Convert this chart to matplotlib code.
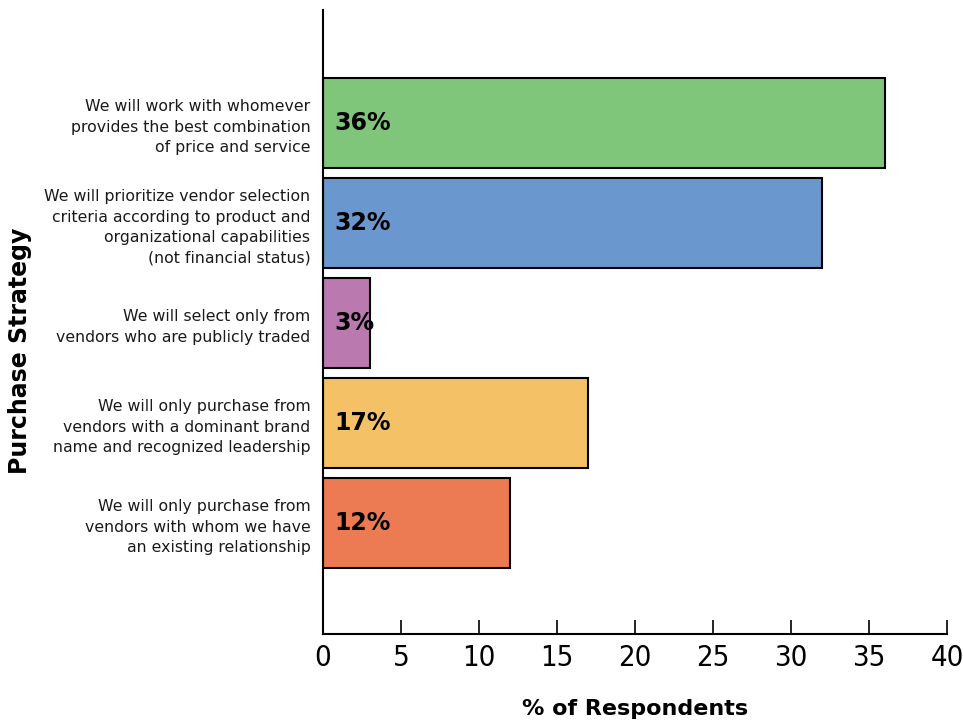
import matplotlib
matplotlib.use("Agg")
import matplotlib.pyplot as plt

##-------------------##
##   CHART DATA      ##
##-------------------##
strategies = [
    "We will work with whomever\nprovides the best combination\nof price and service",
    "We will prioritize vendor selection\ncriteria according to product and\norganizational capabilities\n(not financial status)",
    "We will select only from\nvendors who are publicly traded",
    "We will only purchase from\nvendors with a dominant brand\nname and recognized leadership",
    "We will only purchase from\nvendors with whom we have\nan existing relationship",
]
percent = [36, 32, 3, 17, 12]
colores = ["#80C67A", "#6A97CE", "#BA7AAF", "#F5C166", "#EC7A52"]
xticks = [0, 5, 10, 15, 20, 25, 30, 35, 40]

fig = plt.figure(figsize=(9.63, 7.21), dpi=100)
ax = fig.add_axes([0.3354, 0.1207, 0.648, 0.8654])

pos = list(range(len(percent)))
ax.barh(pos, percent, height=0.9, color=colores, edgecolor="black", linewidth=1.5)

for p, v in zip(pos, percent):
    ax.text(0.75, p, f"{v}%", ha="left", va="center", fontsize=17, fontweight="bold")

ax.set_ylim(5.11, -1.13)
ax.set_xlim(0, 40)
ax.set_xticks(xticks)
ax.set_xticklabels([str(t) for t in xticks], fontsize=21, fontstretch="condensed")
ax.set_yticks(pos)
ax.set_yticklabels(strategies, fontsize=11.3, linespacing=1.45, color="#1a1a1a")
ax.tick_params(axis="y", length=0, pad=9)
ax.tick_params(axis="x", direction="in", length=10, width=1.2, pad=7)

for s in ["top", "right"]:
    ax.spines[s].set_visible(False)
ax.spines["left"].set_linewidth(1.5)
ax.spines["bottom"].set_linewidth(1.5)

ax.set_xlabel("% of Respondents", fontsize=16, fontweight="bold", labelpad=20)
fig.text(0.021, 0.513, "Purchase Strategy", rotation=90, fontsize=17,
         fontweight="bold", ha="center", va="center")

fig.savefig("out.png", dpi=100)
